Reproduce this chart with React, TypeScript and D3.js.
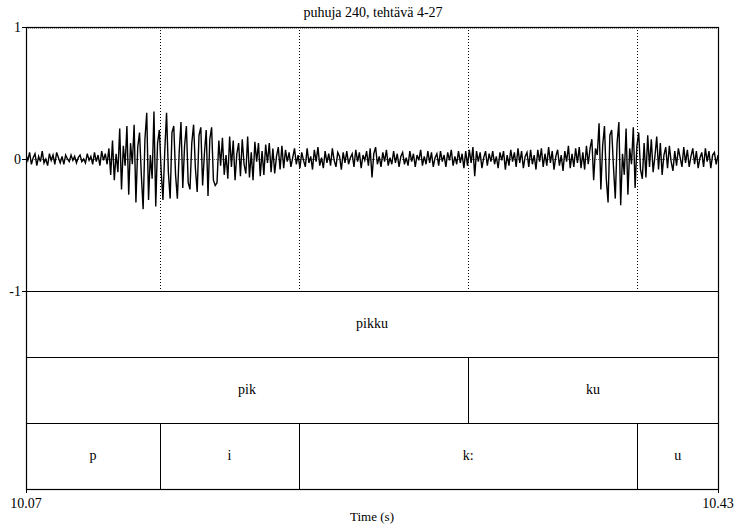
import React from "react";
import * as d3 from "d3";

const title = "puhuja 240, tehtävä 4-27";
const tStart = 10.07;
const tEnd = 10.43;
const yTicks = [1, 0, -1];
const xTickLabels = ["10.07", "10.43"];
const xLabel = "Time (s)";

// waveform extremes, left to right
const segLeadNoise = [0.03,-0.01,0.05,-0.04,0.01,0.04,-0.05,0.02,-0.02,0.06,-0.03,0.00,-0.05,0.04,-0.01,0.03,-0.04,0.05,0.01,-0.03,0.02,-0.04,0.03,0.00,-0.02,0.03,-0.01,0.02,-0.03,0.01,0.03,-0.02,0.00,-0.03,0.04,-0.01,0.02,-0.04,0.05,-0.02,0.03,-0.05,0.06,-0.01,0.04,-0.04];
const segVowelI = [0.08,-0.12,0.14,-0.16,0.04,-0.10,0.23,-0.23,0.10,-0.05,0.25,-0.27,0.12,-0.04,0.26,-0.33,0.09,0.20,-0.12,-0.38,0.15,0.35,-0.31,0.03,-0.15,0.36,-0.36,0.12,0.22,-0.09,-0.31,0.06,0.35,-0.10,-0.30,0.20,0.25,-0.12,-0.30,0.05,0.28,-0.22,0.10,0.25,-0.18,-0.23,0.12,0.26,-0.07,-0.25,0.18,0.24,-0.20,0.04,0.22,-0.28,0.15,0.24,-0.16,-0.20];
const segVowelIDecay = [-0.18,0.14,-0.05,0.16,-0.12,0.03,-0.15,0.17,-0.06,0.14,-0.16,0.04,0.12,-0.13,0.15,-0.04,-0.11,0.17,-0.14,0.05,-0.16,0.13,-0.02,0.12,-0.13,0.06,-0.12,0.11,-0.03,0.12,-0.10,0.08,-0.11,0.02,0.09,-0.08,0.10,-0.07];
const segClosure = [
  0.07,-0.02,0.05,-0.06,0.01,0.08,-0.04,0.03,-0.07,0.05,
  -0.01,-0.06,0.08,-0.03,0.02,-0.08,0.07,-0.02,0.09,-0.05,
  0.01,-0.07,0.06,-0.03,0.04,-0.05,0.08,-0.01,-0.06,0.05,
  0.02,-0.08,0.05,-0.03,0.06,-0.04,0.01,0.04,-0.06,0.07,
  -0.02,0.05,-0.07,0.03,-0.01,0.06,-0.05,0.08,-0.14,0.04,
  0.09,-0.04,0.02,-0.06,0.05,-0.02,0.07,-0.05,0.01,-0.04,
  0.06,-0.03,0.04,-0.06,0.02,0.05,-0.04,0.01,-0.05,0.06,
  -0.02,0.04,-0.06,0.03,-0.01,0.07,-0.05,0.02,-0.04,0.06,
  -0.03,0.05,-0.06,0.01,0.04,-0.05,0.06,-0.02,0.03,-0.06,
  0.05,-0.01,0.07,-0.05,0.02,-0.04,0.06,-0.03,0.04,-0.07,
  0.06,-0.05,0.07,-0.03,0.09,-0.13,0.06,-0.02,0.05,-0.07,
  0.01,0.06,-0.05,0.04,-0.02,0.06,-0.04,0.02,-0.07,0.05,
  -0.01,0.06,-0.08,0.03,-0.05,0.07,-0.02,0.05,-0.06,0.08,
  -0.03,0.06,-0.07,0.02,0.05,-0.06,0.07,-0.04,0.03,-0.08,
  0.07,-0.02,0.08,-0.06,0.04,-0.05,0.09,-0.03,0.06,-0.08,
  0.02,0.07,-0.05,0.03,-0.09,0.06,-0.02,0.10,-0.07,0.04,
  -0.06,0.08,-0.03,0.09,-0.07,0.05,-0.08,0.10,-0.04,0.08
];
const segVowelU = [0.15,-0.16,0.08,0.03,0.27,-0.23,0.10,0.25,-0.15,-0.33,0.18,0.22,-0.06,-0.30,0.12,0.28,-0.35,0.04,-0.12,0.23,-0.27,0.08,-0.04,0.24,-0.22,0.10,0.20,-0.08,-0.15,0.12];
const segTail = [-0.14,0.18,-0.06,0.15,-0.10,0.02,0.17,-0.08,0.12,-0.12,0.03,0.09,-0.07,0.10,-0.02,-0.09,0.06,-0.05,0.08,0.01,-0.06,0.09,-0.03,0.07,-0.06,0.02,0.08,-0.04,0.06,-0.07,0.01,0.05,-0.06,0.08,-0.02,0.06,-0.07,0.03,0.05,-0.04,0.03];

const samples = [...segLeadNoise, ...segVowelI, ...segVowelIDecay, ...segClosure, ...segVowelU, ...segTail];

// TextGrid tiers (times in seconds)
const wordLabels = ["pikku"];
const wordBounds = [10.07, 10.43];
const syllLabels = ["pik", "ku"];
const syllBounds = [10.07, 10.2999, 10.43];
const phoneLabels = ["p", "i", "k:", "u"];
const phoneBounds = [10.07, 10.1397, 10.212, 10.388, 10.43];

const tiers = [
  { labels: wordLabels, bounds: wordBounds },
  { labels: syllLabels, bounds: syllBounds },
  { labels: phoneLabels, bounds: phoneBounds },
];

const W = 737;
const H = 530;
const L = 26;
const R = 718;
const T = 27;
const waveBottom = 291;
const tierH = 66;
const font = "'Times New Roman', Times, 'Liberation Serif', 'Noto Serif', 'DejaVu Serif', serif";
const tStyle = { fontFamily: font };

export default function App() {
  const x = d3.scaleLinear().domain([tStart, tEnd]).range([L, R]);
  const y = d3.scaleLinear().domain([-1, 1]).range([waveBottom, T]);
  const idx = d3.scaleLinear().domain([0, samples.length - 1]).range([tStart, tEnd]);
  const line = d3
    .line<number>()
    .x((d, i) => x(idx(i)))
    .y((d) => y(d));
  const bottom = waveBottom + tierH * tiers.length;
  const allBounds = Array.from(new Set(tiers.flatMap((t) => t.bounds.slice(1, -1))));

  return (
    <svg width={W} height={H} style={{ position: "fixed", left: 0, top: 0, background: "#fff" }}>
      <rect x={0} y={0} width={W} height={H} fill="#fff" />
      <text x={(L + R) / 2 + 1} y={17} textAnchor="middle" fontSize={14} style={tStyle}>{title}</text>

      {/* zero line */}
      <line x1={L} x2={R} y1={y(0) + 0.5} y2={y(0) + 0.5} stroke="#000" strokeWidth={0.6} strokeDasharray="1,1" />
      <line x1={L} x2={R} y1={T + 1.5} y2={T + 1.5} stroke="#999" strokeWidth={1} strokeDasharray="1,1" />

      {/* boundary dotted lines in waveform */}
      {allBounds.map((b, i) => (
        <line key={i} x1={Math.round(x(b)) + 0.5} x2={Math.round(x(b)) + 0.5} y1={T} y2={waveBottom} stroke="#000" strokeWidth={1} strokeDasharray="1,2" />
      ))}

      <clipPath id="wclip">
        <rect x={L} y={T} width={R - L} height={waveBottom - T} />
      </clipPath>
      <path d={line(samples) || ""} fill="none" stroke="#000" strokeWidth={1.4} strokeLinejoin="miter" clipPath="url(#wclip)" />

      {/* tiers */}
      {tiers.map((tier, ti) => {
        const top = waveBottom + ti * tierH;
        return (
          <g key={ti}>
            <line x1={L} x2={R} y1={top + 0.5} y2={top + 0.5} stroke="#000" strokeWidth={1} />
            {tier.bounds.slice(1, -1).map((b, bi) => (
              <line key={bi} x1={Math.round(x(b)) + 0.5} x2={Math.round(x(b)) + 0.5} y1={top} y2={top + tierH} stroke="#000" strokeWidth={1} />
            ))}
            {tier.labels.map((lab, li) => (
              <text key={li} x={(x(tier.bounds[li]) + x(tier.bounds[li + 1])) / 2} y={top + tierH / 2 + 4} textAnchor="middle" fontSize={14} style={tStyle}>
                {lab}
              </text>
            ))}
          </g>
        );
      })}

      {/* frame */}
      <rect x={L + 0.5} y={T + 0.5} width={R - L} height={bottom - T} fill="none" stroke="#000" strokeWidth={1.2} />

      {/* y ticks */}
      {yTicks.map((v) => (
        <g key={v}>
          <line x1={L - 4} x2={L} y1={y(v) + 0.5} y2={y(v) + 0.5} stroke="#000" />
          <text x={L - 5} y={y(v) + 5} textAnchor="end" fontSize={14} style={tStyle}>{v}</text>
        </g>
      ))}

      {/* x ticks */}
      {[tStart, tEnd].map((v, i) => (
        <g key={i}>
          <line x1={x(v) + 0.5} x2={x(v) + 0.5} y1={bottom} y2={bottom + 4} stroke="#000" />
          <text x={Math.min(x(v), W - 19)} y={508} textAnchor="middle" fontSize={14} style={tStyle}>{xTickLabels[i]}</text>
        </g>
      ))}
      <text x={(L + R) / 2} y={521} textAnchor="middle" fontSize={13} style={tStyle}>{xLabel}</text>
    </svg>
  );
}
